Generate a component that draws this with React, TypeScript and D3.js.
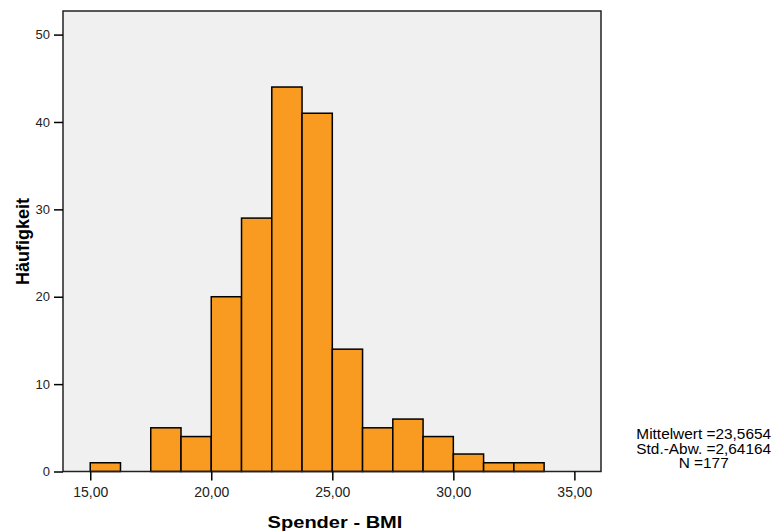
import { useRef, useEffect } from "react";
import * as d3 from "d3";

// bins of width 1.25, starting at 15
const binStarts = [15, 16.25, 17.5, 18.75, 20, 21.25, 22.5, 23.75, 25, 26.25, 27.5, 28.75, 30, 31.25, 32.5];
const counts = [1, 0, 5, 4, 20, 29, 44, 41, 14, 5, 6, 4, 2, 1, 1];
const binWidth = 1.25;
const xTicks = [15, 20, 25, 30, 35];
const yTicks = [0, 10, 20, 30, 40, 50];
const statsLines = ["Mittelwert =23,5654", "Std.-Abw. =2,64164", "N =177"];

export default function App() {
  const svgRef = useRef<SVGSVGElement>(null);

  useEffect(() => {
    if (!svgRef.current) return;
    const svg = d3.select(svgRef.current);
    svg.selectAll("*").remove();

    const left = 63, right = 601, top = 11, bottom = 471.5;
    const font = "Arial, 'Liberation Sans', sans-serif";

    const x = d3.scaleLinear().domain([13.875, 36.1]).range([left, right]);
    const y = d3.scaleLinear().domain([0, 52.7]).range([bottom, top]);

    svg.append("rect")
      .attr("x", left).attr("y", top)
      .attr("width", right - left).attr("height", bottom - top)
      .attr("fill", "#f0f0f0");

    const bins = binStarts.map((s, i) => ({ s, c: counts[i] })).filter((d) => d.c > 0);
    svg.append("g")
      .selectAll("rect")
      .data(bins)
      .join("rect")
      .attr("x", (d) => x(d.s))
      .attr("y", (d) => y(d.c))
      .attr("width", (d) => x(d.s + binWidth) - x(d.s))
      .attr("height", (d) => y(0) - y(d.c))
      .attr("fill", "#f99b20")
      .attr("stroke", "#000")
      .attr("stroke-width", 1.5);

    // frame
    svg.append("rect")
      .attr("x", left).attr("y", top)
      .attr("width", right - left).attr("height", bottom - top)
      .attr("fill", "none")
      .attr("stroke", "#222")
      .attr("stroke-width", 1.5);

    const fmt = (v: number) => v.toFixed(2).replace(".", ",");

    const xa = svg.append("g")
      .attr("transform", `translate(0,${bottom})`)
      .attr("font-size", 14)
      .attr("font-family", font)
      .call(d3.axisBottom(x).tickValues(xTicks).tickFormat((d) => fmt(d as number)).tickSize(9).tickPadding(7));
    xa.attr("font-size", 14).attr("font-family", font);
    xa.select(".domain").remove();
    xa.selectAll(".tick line").attr("stroke", "#000").attr("stroke-width", 1.5);
    xa.selectAll("text").attr("fill", "#222");

    const ya = svg.append("g")
      .attr("transform", `translate(${left},0)`)
      .call(d3.axisLeft(y).tickValues(yTicks).tickFormat(d3.format("d")).tickSize(9).tickPadding(4));
    ya.attr("font-size", 13).attr("font-family", font);
    ya.select(".domain").remove();
    ya.selectAll(".tick line").attr("stroke", "#000").attr("stroke-width", 1.5);
    ya.selectAll("text").attr("fill", "#222");

    svg.append("text")
      .attr("transform", "translate(335,527.7) scale(1.18,1)")
      .attr("text-anchor", "middle")
      .attr("font-family", font).attr("font-size", 17).attr("font-weight", "bold")
      .attr("fill", "#000")
      .text("Spender - BMI");

    svg.append("text")
      .attr("transform", "translate(29,241.6) rotate(-90)")
      .attr("text-anchor", "middle")
      .attr("font-family", font).attr("font-size", 18).attr("font-weight", "bold")
      .attr("fill", "#000")
      .text("Häufigkeit");

    svg.append("g")
      .selectAll("text")
      .data(statsLines)
      .join("text")
      .attr("transform", (_, i) => `translate(703.7,${439.3 + i * 14.2}) scale(1.1,1)`)
      .attr("text-anchor", "middle")
      .attr("font-family", font).attr("font-size", 14)
      .attr("fill", "#000")
      .text((d) => d);
  }, []);

  return (
    <svg
      ref={svgRef}
      width={776}
      height={532}
      style={{ position: "absolute", left: 0, top: 0, background: "#fff" }}
    />
  );
}
